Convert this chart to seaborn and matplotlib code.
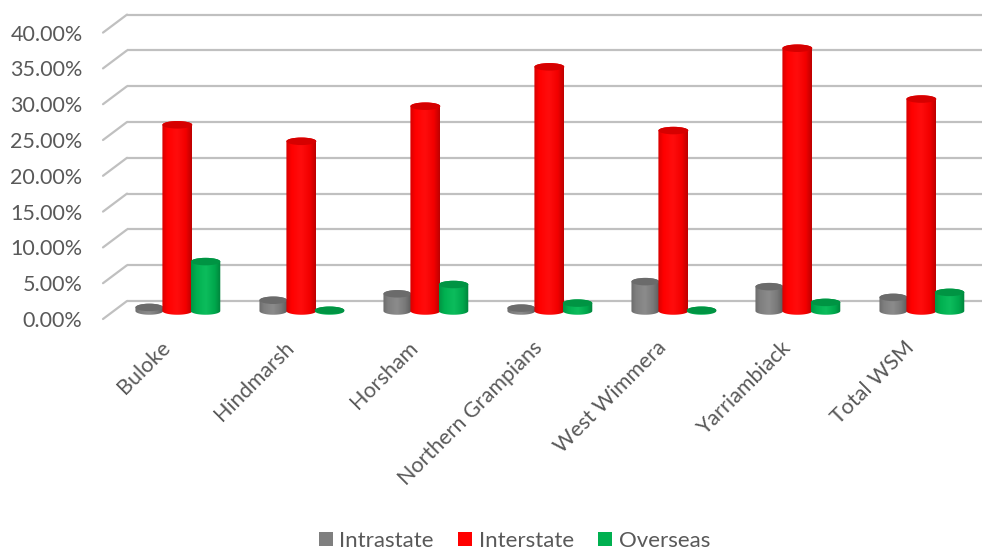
import numpy as np
import pandas as pd
import matplotlib
matplotlib.use("Agg")
import matplotlib.pyplot as plt
import matplotlib.transforms as mtrans
from matplotlib.colors import LinearSegmentedColormap
from matplotlib.patches import Ellipse, Rectangle, PathPatch
from matplotlib.path import Path
import seaborn as sns

# Share of visitors by origin, percent
regions = ["Buloke", "Hindmarsh", "Horsham", "Northern Grampians",
           "West Wimmera", "Yarriambiack", "Total WSM"]
intrastate = [0.5, 1.5, 2.4, 0.4, 4.1, 3.4, 1.9]
interstate = [26.0, 23.7, 28.6, 34.1, 25.2, 36.7, 29.6]
overseas = [6.9, 0.1, 3.7, 1.1, 0.1, 1.2, 2.6]
series_names = ["Intrastate", "Interstate", "Overseas"]
series_colors = ["#7f7f7f", "#ff0000", "#00b050"]
y_ticks = [0, 5, 10, 15, 20, 25, 30, 35, 40]

df = pd.DataFrame({
    "region": regions * 3,
    "origin": sum([[n] * len(regions) for n in series_names], []),
    "share": intrastate + interstate + overseas,
})

W, H = 982, 551
sns.set_theme(style="white")
plt.rcParams["font.family"] = ["Lato", "DejaVu Sans"]
TEXT = "#595959"

fig = plt.figure(figsize=(W / 100, H / 100), dpi=100)
# Plot area in pixels: the floor line of the bars sits at y=311, 40% is 286 px above
PX_PER_UNIT = 7.16
floor_px, top_px = 311, 311 - 40 * PX_PER_UNIT
step = 124
left_px, right_px = 127, 982
ax = fig.add_axes([left_px / W, 1 - floor_px / H, (right_px - left_px) / W,
                   (floor_px - top_px) / H])

sns.barplot(data=df, x="region", y="share", hue="origin", hue_order=series_names,
            palette=series_colors, order=regions, width=0.67, dodge=True,
            saturation=1, legend=False, ax=ax, zorder=3)

xlim = ((left_px - 177) / step, (right_px - 177) / step)
ax.set_xlim(*xlim)
ax.set_ylim(0, 40)
for s in ax.spines.values():
    s.set_visible(False)
ax.set_xlabel("")
ax.set_ylabel("")


def shifted(dx, dy):
    """Offset in pixels, dy counted downwards."""
    return mtrans.ScaledTranslation(dx / 100, -dy / 100, fig.dpi_scale_trans)


# Back wall gridlines with their slanted side-wall returns
back = ax.transData + shifted(0, -10)
grid_c = "#c0c0c0"
for v in y_ticks:
    ax.plot([xlim[0], xlim[1]], [v, v], color=grid_c, lw=1.6, transform=back,
            zorder=1, clip_on=False, solid_capstyle="butt")
    p0 = ax.transData.transform((xlim[0], v))
    ax.add_line(plt.Line2D([p0[0], p0[0] - 24], [p0[1] + 10, p0[1] - 8],
                           transform=mtrans.IdentityTransform(), color=grid_c,
                           lw=1.6, zorder=1, clip_on=False))


def shade(base):
    """Horizontal shading across a cylinder: darker rim, bright core."""
    c = np.array(matplotlib.colors.to_rgb(base))
    light = np.minimum(c + 0.05, 1)
    return LinearSegmentedColormap.from_list(
        "cyl", [(0, c * 0.84), (0.18, c), (0.5, light), (0.8, c * 0.95),
                (1, c * 0.74)])


def top_shade(base):
    c = np.array(matplotlib.colors.to_rgb(base))
    return matplotlib.colors.to_hex(c * 0.84)


# Turn each flat bar into a shaded cylinder
cap_h = 7.5 / PX_PER_UNIT
gradient = np.linspace(0, 1, 128).reshape(1, -1)
bars = list(ax.patches)
for i, patch in enumerate(bars):
    series = i // len(regions)
    x, w, h = patch.get_x(), patch.get_width(), patch.get_height()
    if series == 1:  # the middle column stands slightly proud of its neighbours
        x, w = x - 0.006, w + 0.018
    elif series == 2:
        w = w + 0.014
    base = series_colors[series]
    patch.set_visible(False)
    z = 3 + series * 0.1
    t = np.linspace(np.pi, 2 * np.pi, 40)
    xs = x + w / 2 + w / 2 * np.cos(t)
    low = cap_h / 2 * np.sin(t)
    high = h + cap_h / 2 * np.sin(t - np.pi)
    verts = np.r_[np.c_[xs, low], np.c_[xs[::-1], high[::-1]]]
    outline = Path(np.r_[verts, verts[:1]], closed=True)
    clip = PathPatch(outline, transform=ax.transData, fc="none", ec="none")
    ax.add_patch(clip)
    clip.set_clip_on(False)
    im = ax.imshow(gradient, extent=[x, x + w, -2, h + 2], aspect="auto",
                   cmap=shade(base), zorder=z, interpolation="bilinear")
    im.set_clip_box(fig.bbox)
    im.set_clip_path(clip)
    ax.add_patch(Ellipse((x + w / 2, h), w, cap_h, fc=top_shade(base), ec="none",
                         zorder=z + 0.01, clip_on=False))

ax.set_xlim(*xlim)
ax.set_ylim(0, 40)

# Value axis labels sit on the front edge of the side wall
ax.set_yticks(y_ticks, [f"{v:.2f}%" for v in y_ticks])
ax.tick_params(axis="y", length=0, pad=32, labelsize=15.5, labelcolor=TEXT)
for lab in ax.get_yticklabels():
    lab.set_transform(lab.get_transform() + shifted(0, 8))

ax.tick_params(axis="x", length=0, pad=12, labelsize=15.5, labelcolor=TEXT)
ax.set_xticks(range(len(regions)), regions, rotation=45, ha="right",
              rotation_mode="anchor")
for lab in ax.get_xticklabels():
    lab.set_transform(lab.get_transform() + shifted(-17, 10))

handles = [Rectangle((0, 0), 1, 1, fc=c, ec="none") for c in series_colors]
fig.legend(handles, series_names, loc="center", ncol=3, frameon=False,
           bbox_to_anchor=(514.5 / W, 1 - 541 / H), fontsize=16, labelcolor=TEXT,
           handlelength=0.63, handleheight=0.63, handletextpad=0.3,
           columnspacing=1.1, borderpad=0, borderaxespad=0)

fig.savefig("out.png", dpi=100, facecolor="white")
